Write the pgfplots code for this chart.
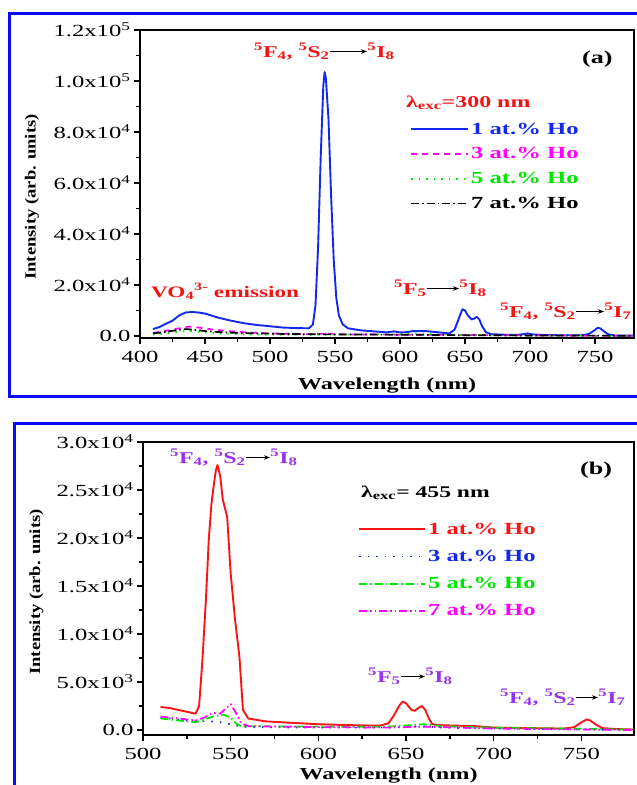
\documentclass[border=0pt]{standalone}
\usepackage{pgfplots}
\pgfplotsset{compat=1.18}
\usepackage{fontspec}
\setmainfont{Liberation Serif}[FakeStretch=1.45]
\newfontfamily\ylabfont{Liberation Serif}[FakeStretch=1.2]
\usetikzlibrary{arrows.meta}

\definecolor{serblue}{RGB}{20,40,235}
\definecolor{sermag}{RGB}{255,0,255}
\definecolor{sergreen}{RGB}{0,230,0}
\definecolor{serred}{RGB}{250,20,20}
\definecolor{annA}{RGB}{240,20,20}
\definecolor{annB}{RGB}{150,50,240}
\definecolor{frameblue}{RGB}{10,10,250}

\newcommand\fs[1]{\fontsize{#1}{#1}\selectfont}
% transition arrow set inline between term symbols
\newcommand\arr[1]{\tikz[baseline=0pt]\draw[black,line width=0.9pt,-{Stealth[length=6pt,width=4.5pt]}] (0pt,5.5pt) -- (#1,5.5pt);}

\pgfplotsset{
  specaxis/.style={
    scale only axis,
    axis line style={line width=1.8pt},
    tick align=outside,
    xtick pos=bottom, ytick pos=left,
    major tick length=6pt, minor tick length=3.5pt,
    every tick/.style={black, line width=1.5pt},
    minor tick num=1,
    scaled y ticks=false, scaled x ticks=false,
    tick label style={font=\fs{17}},
    xticklabel style={yshift=-4pt},
    /pgf/number format/assume math mode=true,
    xlabel style={font=\bfseries\fs{16.7}},
    ylabel style={font=\ylabfont\bfseries\fs{15.5}},
    legend cell align=left,
    legend style={draw=none, fill=none, font=\bfseries\fs{17}, row sep=8pt, inner sep=0pt},
    every axis plot/.append style={line join=round},
  },
  leglineA/.style={legend image code/.code={\draw[##1] (0pt,0pt) -- (57pt,0pt);}},
  leglineB/.style={legend image code/.code={\draw[##1] (0pt,0pt) -- (66pt,0pt);}},
}

\begin{document}
\begin{tikzpicture}
\path[use as bounding box] (0pt,0pt) rectangle (637pt,-785pt);

% ---------------- panel (a): excitation at 300 nm ----------------
\begin{axis}[specaxis, leglineA,
  at={(140pt,-338pt)}, anchor=south west,
  width=494pt, height=308pt,
  xmin=400, xmax=780, ymin=-800, ymax=120000,
  xtick={400,450,...,750},
  ytick={0,20000,40000,60000,80000,100000,120000},
  yticklabels={0.0, 2.0x10\textsuperscript{4}, 4.0x10\textsuperscript{4}, 6.0x10\textsuperscript{4}, 8.0x10\textsuperscript{4}, 1.0x10\textsuperscript{5}, 1.2x10\textsuperscript{5}},
  xlabel={Wavelength (nm)}, ylabel={Intensity (arb. units)},
  xlabel style={at={(axis description cs:0.5,-0.153)}, anchor=center},
  ylabel style={at={(axis description cs:-0.219,0.458)}, anchor=center},
  legend style={at={(axis description cs:0.5466,0.706)}, anchor=north west},
]
\addplot[serblue, line width=1.9pt] coordinates {
(410,2700)(415,3500)(420,4800)(425,6000)(430,8000)(435,9200)(440,9400)(445,9200)(450,8800)(455,8000)(460,7200)(470,6000)(480,5000)(490,4300)(500,3800)(510,3300)(520,3100)(530,3000)(533,4500)(535,12000)(537,35000)(539,70000)(541,98000)(542,103500)(543,101000)(545,85000)(547,55000)(549,30000)(551,15000)(553,8000)(556,4500)(560,3000)(570,2200)(580,1800)(590,1400)(595,1800)(600,1400)(605,1500)(610,1900)(620,1900)(630,1400)(638,1000)(642,2500)(645,6500)(648,10500)(650,10000)(652,8200)(655,6500)(657,6800)(659,7500)(661,6500)(663,4000)(666,1500)(670,700)(680,500)(690,400)(695,700)(698,1000)(702,600)(710,400)(720,300)(730,300)(740,300)(745,700)(749,2000)(752,3200)(754,3000)(757,1800)(760,700)(765,200)(780,100)
};
\addlegendentry{\textcolor{serblue}{1 at.\% Ho}}
\addplot[sermag, line width=1.7pt, dash pattern=on 6pt off 5pt] coordinates {
(410,1200)(420,2000)(430,3000)(438,3700)(445,3300)(455,2600)(470,1800)(490,1200)(510,900)(530,700)(545,900)(560,600)(600,500)(650,400)(700,200)(780,0)
};
\addlegendentry{\textcolor{sermag}{3 at.\% Ho}}
\addplot[sergreen, line width=1.7pt, dash pattern=on 1.5pt off 6pt] coordinates {
(410,500)(420,1000)(430,1700)(438,2000)(445,1600)(460,1000)(480,600)(500,500)(550,500)(600,700)(615,1000)(625,700)(650,300)(700,100)(780,0)
};
\addlegendentry{\textcolor{sergreen}{5 at.\% Ho}}
\addplot[black, line width=1.7pt, dash pattern=on 8pt off 3pt on 1.5pt off 3pt] coordinates {
(410,1000)(420,1600)(430,2400)(436,2700)(445,2200)(455,1700)(470,1300)(490,1000)(510,800)(550,600)(600,500)(650,300)(700,200)(780,100)
};
\addlegendentry{\textcolor{black}{7 at.\% Ho}}
\end{axis}

% ---------------- panel (b): excitation at 455 nm ----------------
\begin{axis}[specaxis, leglineB,
  at={(143pt,-735pt)}, anchor=south west,
  width=491pt, height=293pt,
  xmin=500, xmax=780, ymin=-520, ymax=30000,
  xtick={500,550,...,750},
  ytick={0,5000,10000,15000,20000,25000,30000},
  yticklabels={0.0, 5.0x10\textsuperscript{3}, 1.0x10\textsuperscript{4}, 1.5x10\textsuperscript{4}, 2.0x10\textsuperscript{4}, 2.5x10\textsuperscript{4}, 3.0x10\textsuperscript{4}},
  xlabel={Wavelength (nm)}, ylabel={Intensity (arb. units)},
  xlabel style={at={(axis description cs:0.5,-0.14)}, anchor=center},
  ylabel style={at={(axis description cs:-0.217,0.488)}, anchor=center},
  legend style={at={(axis description cs:0.438,0.732)}, anchor=north west, row sep=10.5pt},
]
\addplot[serred, line width=1.9pt] coordinates {
(510,2400)(515,2300)(520,2100)(525,1900)(530,1700)(532,2500)(534,7600)(536,14000)(537.5,19800)(539,23500)(540,25000)(541.5,27000)(542.5,27600)(544,26500)(545.5,24000)(548,22200)(550,16300)(552.5,11500)(555,7600)(557,2100)(560,1200)(570,900)(580,800)(590,700)(600,600)(620,500)(635,450)(640,700)(643,1500)(646,2500)(648,2950)(650,2800)(653,2100)(655,2000)(657,2300)(659,2500)(661,2100)(663,1200)(665,600)(670,500)(680,450)(690,400)(700,250)(720,200)(740,150)(746,300)(750,800)(753,1100)(755,1000)(758,600)(762,200)(770,100)(780,50)
};
\addlegendentry{\textcolor{serred}{1 at.\% Ho}}
\addplot[serblue, line width=1.7pt, dash pattern=on 1.5pt off 7pt] coordinates {
(510,1300)(520,1100)(530,900)(538,900)(545,800)(550,600)(555,400)(560,300)(600,250)(640,250)(660,400)(670,250)(700,150)(780,0)
};
\addlegendentry{\textcolor{serblue}{3 at.\% Ho}}
\addplot[sergreen, line width=1.7pt, dash pattern=on 8pt off 3pt on 1.5pt off 3pt] coordinates {
(510,1200)(520,1000)(530,800)(535,1100)(540,1400)(546,1600)(550,1300)(553,700)(556,400)(600,350)(640,350)(660,600)(670,400)(700,250)(780,50)
};
\addlegendentry{\textcolor{sergreen}{5 at.\% Ho}}
\addplot[sermag, line width=1.7pt, dash pattern=on 8pt off 3pt on 1.5pt off 3pt on 1.5pt off 3pt] coordinates {
(510,1400)(520,1200)(530,1000)(535,1300)(540,1800)(544,1700)(547,2200)(550,2700)(553,1800)(556,700)(560,400)(600,300)(640,250)(660,350)(700,150)(780,0)
};
\addlegendentry{\textcolor{sermag}{7 at.\% Ho}}
\end{axis}

% ---------------- frames and annotations ----------------
\begin{scope}[x=1pt,y=-1pt]
\draw[frameblue, line width=3pt] (645,13) -- (9,13) -- (9,396) -- (645,396);
\draw[frameblue, line width=3pt] (645,423) -- (14,423) -- (14,795);

\begin{scope}[every node/.style={inner sep=0pt, font=\bfseries\fs{16.5}}]
% panel (a)
\node[annA, anchor=base west] at (254,57) {\textsuperscript{5}F\textsubscript{4}, \textsuperscript{5}S\textsubscript{2}\arr{37pt}\textsuperscript{5}I\textsubscript{8}};
\node[black, anchor=base west, font=\bfseries\fs{18}] at (582,63) {(a)};
\node[annA, anchor=base west, font=\bfseries\fs{16.5}] at (406,107) {λ\textsubscript{exc}=300 nm};
\node[annA, anchor=base west, font=\bfseries\fs{16}] at (151,297) {VO\textsubscript{4}\textsuperscript{3-} emission};
\node[annA, anchor=base west] at (394,294) {\textsuperscript{5}F\textsubscript{5}\arr{32pt}\textsuperscript{5}I\textsubscript{8}};
\node[annA, anchor=base west] at (500,317) {\textsuperscript{5}F\textsubscript{4}, \textsuperscript{5}S\textsubscript{2}\arr{28pt}\textsuperscript{5}I\textsubscript{7}};
% panel (b)
\node[annB, anchor=base west] at (170,463) {\textsuperscript{5}F\textsubscript{4}, \textsuperscript{5}S\textsubscript{2}\arr{24pt}\textsuperscript{5}I\textsubscript{8}};
\node[black, anchor=base west, font=\bfseries\fs{18}] at (580,474) {(b)};
\node[black, anchor=base west, font=\bfseries\fs{16.3}] at (361,497) {λ\textsubscript{exc}= 455 nm};
\node[annB, anchor=base west] at (368,682) {\textsuperscript{5}F\textsubscript{5}\arr{24pt}\textsuperscript{5}I\textsubscript{8}};
\node[annB, anchor=base west] at (500,703) {\textsuperscript{5}F\textsubscript{4}, \textsuperscript{5}S\textsubscript{2}\arr{22pt}\textsuperscript{5}I\textsubscript{7}};
\end{scope}
\end{scope}
\end{tikzpicture}
\end{document}
